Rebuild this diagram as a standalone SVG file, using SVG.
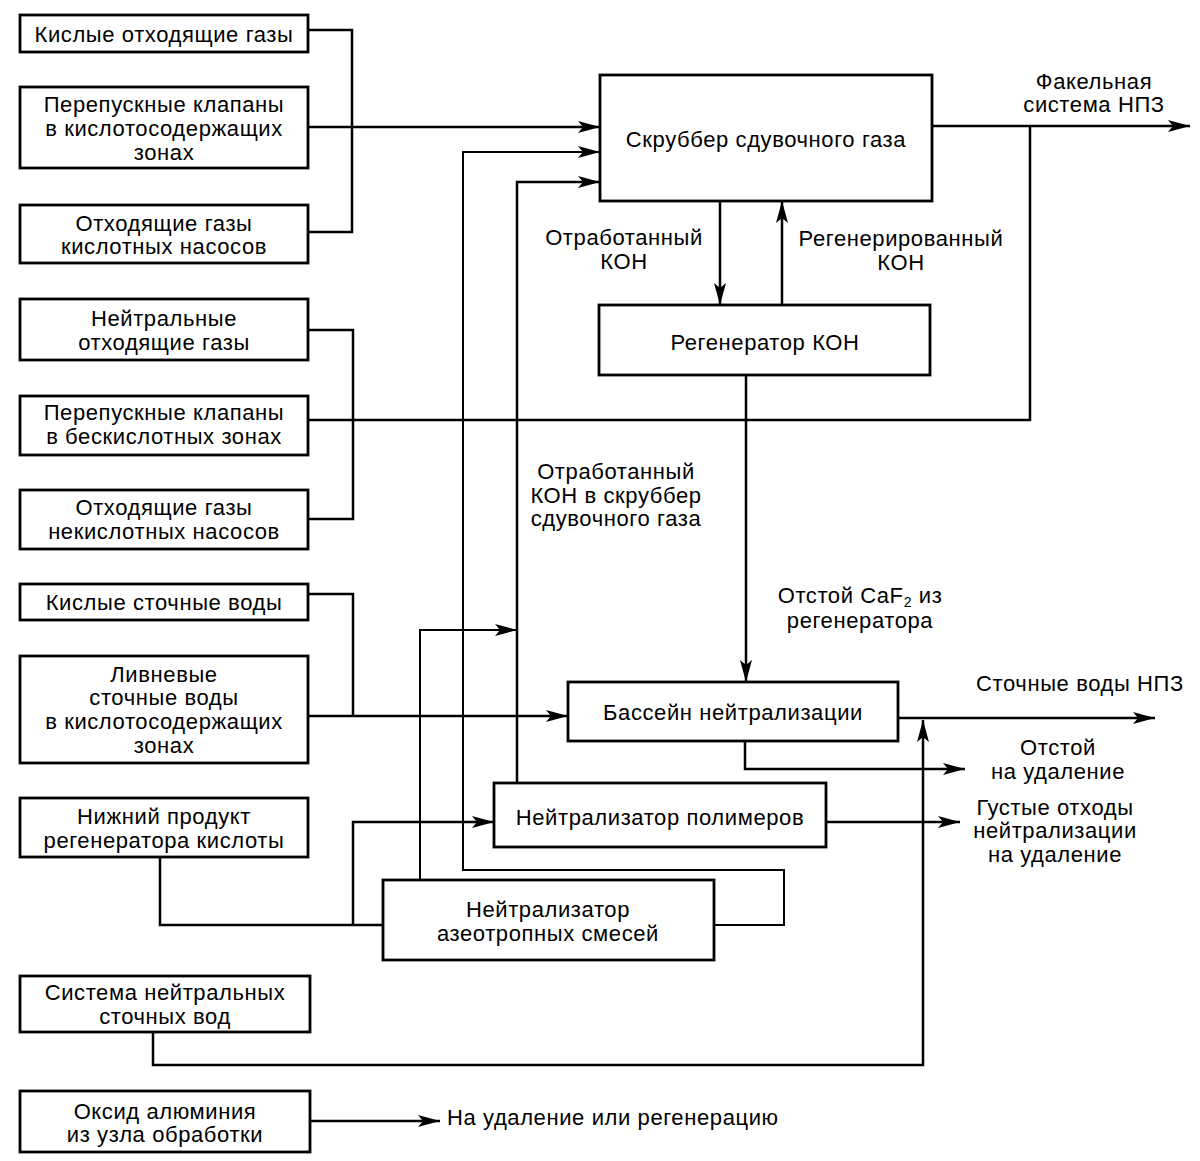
<svg xmlns="http://www.w3.org/2000/svg" width="1200" height="1161" viewBox="0 0 1200 1161">
<style>
.box{fill:#fff;stroke:#000;stroke-width:2.8}
.ln{fill:none;stroke:#000;stroke-width:2.5}
.tn{fill:none;stroke:#000;stroke-width:2}
text{font-family:"Liberation Sans",Arial,sans-serif;font-size:22px;letter-spacing:0.6px;fill:#000;text-anchor:middle}
.st{text-anchor:start}
</style>
<defs>
<marker id="ah" viewBox="0 0 22 12" refX="22" refY="6" markerWidth="22" markerHeight="12" markerUnits="userSpaceOnUse" orient="auto">
<path d="M0,0 L22,6 L0,12 L5,6 Z" fill="#000"/>
</marker>
</defs>
<rect width="1200" height="1161" fill="#fff"/>
<g id="connectors">
<path class="ln" d="M308,30 H352 V232 H308"/>
<path class="ln" d="M308,127 H600" marker-end="url(#ah)"/>
<path class="tn" d="M714,925 H784 V870 H463 V152 H600" marker-end="url(#ah)"/>
<path class="ln" d="M517,783 V182 H600" marker-end="url(#ah)"/>
<path class="ln" d="M720,201 V305" marker-end="url(#ah)"/>
<path class="ln" d="M782,305 V201" marker-end="url(#ah)"/>
<path class="ln" d="M932,126 H1190" marker-end="url(#ah)"/>
<path class="ln" d="M308,420 H1030 V126"/>
<path class="ln" d="M308,330 H353 V519 H308"/>
<path class="ln" d="M746,375 V682" marker-end="url(#ah)"/>
<path class="ln" d="M308,594 H353 V716"/>
<path class="ln" d="M308,716 H568" marker-end="url(#ah)"/>
<path class="tn" d="M420,880 V630 H517" marker-end="url(#ah)"/>
<path class="ln" d="M898,718 H1155" marker-end="url(#ah)"/>
<path class="ln" d="M745,741 V769 H965" marker-end="url(#ah)"/>
<path class="ln" d="M826,822 H960" marker-end="url(#ah)"/>
<path class="ln" d="M160,857 V925 H383"/>
<path class="ln" d="M353,925 V822 H494" marker-end="url(#ah)"/>
<path class="ln" d="M153,1032 V1065 H923 V720" marker-end="url(#ah)"/>
<path class="ln" d="M310,1121 H440" marker-end="url(#ah)"/>
</g>
<g id="n1"><rect class="box" x="20" y="15" width="288" height="37"/><text x="164" y="42">Кислые отходящие газы</text></g>
<g id="n2"><rect class="box" x="20" y="87" width="288" height="81"/><text x="164" y="112">Перепускные клапаны</text><text x="164" y="136">в кислотосодержащих</text><text x="164" y="160">зонах</text></g>
<g id="n3"><rect class="box" x="20" y="205" width="288" height="58"/><text x="164" y="231">Отходящие газы</text><text x="164" y="254">кислотных насосов</text></g>
<g id="n4"><rect class="box" x="20" y="299" width="288" height="61"/><text x="164" y="326">Нейтральные</text><text x="164" y="350">отходящие газы</text></g>
<g id="n5"><rect class="box" x="20" y="396" width="288" height="59"/><text x="164" y="420">Перепускные клапаны</text><text x="164" y="444">в бескислотных зонах</text></g>
<g id="n6"><rect class="box" x="20" y="490" width="288" height="59"/><text x="164" y="515">Отходящие газы</text><text x="164" y="539">некислотных насосов</text></g>
<g id="n7"><rect class="box" x="20" y="584" width="288" height="36"/><text x="164" y="610">Кислые сточные воды</text></g>
<g id="n8"><rect class="box" x="20" y="656" width="288" height="107"/><text x="164" y="682">Ливневые</text><text x="164" y="705">сточные воды</text><text x="164" y="729">в кислотосодержащих</text><text x="164" y="753">зонах</text></g>
<g id="n9"><rect class="box" x="20" y="798" width="288" height="59"/><text x="164" y="824">Нижний продукт</text><text x="164" y="848">регенератора кислоты</text></g>
<g id="n10"><rect class="box" x="20" y="976" width="290" height="56"/><text x="165" y="1000">Система нейтральных</text><text x="165" y="1024">сточных вод</text></g>
<g id="n11"><rect class="box" x="20" y="1091" width="290" height="61"/><text x="165" y="1119">Оксид алюминия</text><text x="165" y="1142">из узла обработки</text></g>
<g id="scrubber"><rect class="box" x="600" y="75" width="332" height="126"/><text x="766" y="147">Скруббер сдувочного газа</text></g>
<g id="regen"><rect class="box" x="599" y="305" width="331" height="70"/><text x="765" y="350">Регенератор КОН</text></g>
<g id="basin"><rect class="box" x="568" y="682" width="330" height="59"/><text x="733" y="720">Бассейн нейтрализации</text></g>
<g id="polym"><rect class="box" x="494" y="783" width="332" height="64"/><text x="660" y="825">Нейтрализатор полимеров</text></g>
<g id="azeo"><rect class="box" x="383" y="880" width="331" height="80"/><text x="548" y="917">Нейтрализатор</text><text x="548" y="941">азеотропных смесей</text></g>
<g id="labels">
<text x="624" y="245">Отработанный</text><text x="624" y="269">КОН</text>
<text x="901" y="246">Регенерированный</text><text x="901" y="270">КОН</text>
<text x="1094" y="89">Факельная</text><text x="1094" y="112">система НПЗ</text>
<text x="616" y="479">Отработанный</text><text x="616" y="503">КОН в скруббер</text><text x="616" y="526">сдувочного газа</text>
<text x="860" y="603">Отстой CaF<tspan font-size="14" dy="4">2</tspan><tspan dy="-4"> из</tspan></text><text x="860" y="628">регенератора</text>
<text x="1080" y="691">Сточные воды НПЗ</text>
<text x="1058" y="755">Отстой</text><text x="1058" y="779">на удаление</text>
<text x="1055" y="815">Густые отходы</text><text x="1055" y="838">нейтрализации</text><text x="1055" y="862">на удаление</text>
<text class="st" x="447" y="1125">На удаление или регенерацию</text>
</g>
</svg>
